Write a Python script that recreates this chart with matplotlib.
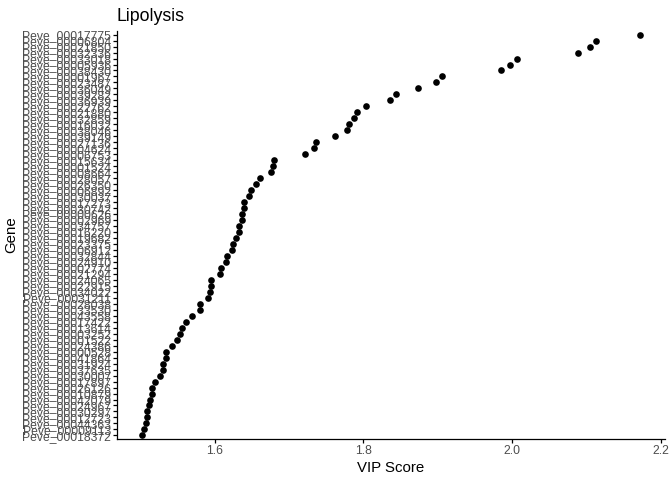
import matplotlib
matplotlib.use("Agg")
import matplotlib.pyplot as plt
import numpy as np

plt.rcParams['font.family'] = ['Liberation Sans', 'DejaVu Sans']

# genes ordered from highest to lowest VIP score
genes = ['Peve_00017775', 'Peve_00006804', 'Peve_00021850', 'Peve_00032336',
         'Peve_00033018', 'Peve_00005936', 'Peve_00038430', 'Peve_00001967',
         'Peve_00023487', 'Peve_00036049', 'Peve_00039282', 'Peve_00036939',
         'Peve_00022762', 'Peve_00021880', 'Peve_00032859', 'Peve_00016032',
         'Peve_00038046', 'Peve_00039149', 'Peve_00027136', 'Peve_00004624',
         'Peve_00006753', 'Peve_00015634', 'Peve_00001524', 'Peve_00008664',
         'Peve_00028057', 'Peve_00026350', 'Peve_00006892', 'Peve_00030037',
         'Peve_00017273', 'Peve_00030742', 'Peve_00000626', 'Peve_00002969',
         'Peve_00034757', 'Peve_00016220', 'Peve_00019682', 'Peve_00023375',
         'Peve_00006912', 'Peve_00032844', 'Peve_00024910', 'Peve_00002774',
         'Peve_00021294', 'Peve_00024065', 'Peve_00022915', 'Peve_00034022',
         'Peve_00031211', 'Peve_00028038', 'Peve_00033530', 'Peve_00043558',
         'Peve_00017422', 'Peve_00013614', 'Peve_00003252', 'Peve_00001522',
         'Peve_00024386', 'Peve_00000528', 'Peve_00041864', 'Peve_00031924',
         'Peve_00037635', 'Peve_00030007', 'Peve_00017897', 'Peve_00026126',
         'Peve_00010879', 'Peve_00042079', 'Peve_00024967', 'Peve_00030297',
         'Peve_00012723', 'Peve_00044363', 'Peve_00009113', 'Peve_00018372']

vip = [2.172, 2.113, 2.105, 2.088, 2.006, 1.997, 1.985, 1.905, 1.897, 1.873,
       1.844, 1.836, 1.803, 1.791, 1.787, 1.780, 1.778, 1.762, 1.736, 1.733,
       1.721, 1.680, 1.678, 1.676, 1.661, 1.656, 1.649, 1.646, 1.639, 1.639,
       1.637, 1.637, 1.632, 1.632, 1.628, 1.625, 1.623, 1.617, 1.615, 1.609,
       1.607, 1.595, 1.595, 1.594, 1.591, 1.580, 1.580, 1.569, 1.561, 1.556,
       1.553, 1.549, 1.542, 1.535, 1.534, 1.531, 1.531, 1.527, 1.519, 1.516,
       1.515, 1.513, 1.512, 1.509, 1.509, 1.507, 1.505, 1.502]

xticks = [1.6, 1.8, 2.0, 2.2]

fig = plt.figure(figsize=(6.72, 4.8), dpi=100)
ax = fig.add_axes([117/672, 1 - 439/480, (665 - 117)/672, (439 - 31)/480])

ypos = np.arange(len(genes))
ax.plot(vip, ypos, 'o', color='black', ms=4.8, mec='none')

n = len(genes)
ax.set_ylim(n - 1 + 0.6, -0.6)
span = max(vip) - min(vip)
ax.set_xlim(min(vip) - 0.05 * span, max(vip) + 0.05 * span)

ax.set_yticks(ypos)
ax.set_yticklabels(genes, fontsize=8.7, color='#4D4D4D')
ax.set_xticks(xticks)
ax.set_xticklabels([f'{t:.1f}' for t in xticks], fontsize=8.7, color='#4D4D4D')

for side in ['top', 'right']:
    ax.spines[side].set_visible(False)
for side in ['left', 'bottom']:
    ax.spines[side].set_linewidth(0.9)
ax.tick_params(length=2.7, width=0.9, pad=1.5)

ax.set_xlabel('VIP Score', fontsize=10.8, labelpad=3)
ax.set_ylabel('Gene', fontsize=10.8, labelpad=3)
ax.set_title('Lipolysis', fontsize=12.8, loc='left', pad=7)

fig.savefig('out.png', dpi=100)
